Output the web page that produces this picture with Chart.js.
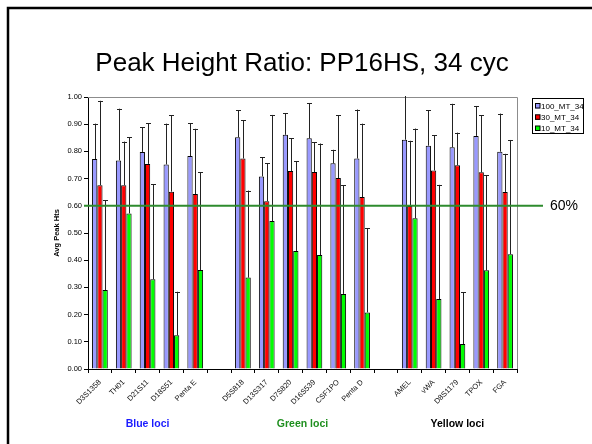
<!DOCTYPE html>
<html>
<head>
<meta charset="utf-8">
<script src="https://cdn.jsdelivr.net/npm/chart.js@4.4.1/dist/chart.umd.min.js"></script>
<style>
  html, body { margin:0; padding:0; background:#fff; }
  #wrap { width:592px; height:444px; position:relative; }
</style>
</head>
<body>
<div id="wrap"><canvas id="c" width="592" height="444"></canvas></div>
<script>
const categories = ['D3S1358','TH01','D21S11','D18S51','Penta E','',
  'D5S818','D13S317','D7S820','D16S539','CSF1PO','Penta D','',
  'AMEL','vWA','D8S1179','TPOX','FGA'];
const mt100 = [0.772,0.767,0.798,0.752,0.783,null,0.852,0.708,0.861,0.848,0.756,0.774,null,0.843,0.821,0.815,0.857,0.799];
const mt30  = [0.676,0.676,0.754,0.652,0.643,null,0.774,0.617,0.728,0.724,0.702,0.632,null,0.599,0.730,0.749,0.723,0.651];
const mt10  = [0.290,0.572,0.330,0.124,0.364,null,0.336,0.544,0.434,0.419,0.276,0.208,null,0.554,0.257,0.092,0.363,0.422];
const sd100 = [0.13,0.19,0.09,0.15,0.12,null,0.10,0.07,0.08,0.13,0.05,0.18,null,0.20,0.13,0.16,0.11,0.14];
const sd30  = [0.31,0.16,0.15,0.28,0.24,null,0.14,0.14,0.12,0.11,0.23,0.27,null,0.24,0.13,0.12,0.21,0.14];
const sd10  = [0.33,0.28,0.35,0.16,0.36,null,0.32,0.39,0.33,0.41,0.40,0.31,null,0.33,0.42,0.19,0.35,0.42];
const seriesNames = ['100_MT_34','30_MT_34','10_MT_34'];
const yTicks = [0,0.1,0.2,0.3,0.4,0.5,0.6,0.7,0.8,0.9,1.0];
const threshold = 0.60;
const thresholdLabel = '60%';
const titleText = 'Peak Height Ratio: PP16HS, 34 cyc';
const groupLabels = ['Blue loci','Green loci','Yellow loci'];
const groupRanges = [[0,4],[6,11],[13,17]];

const FONT = "'Liberation Sans', Arial, sans-serif";
const colors = ['#9999ff','#ff0000','#00ff00'];
const groupColors = ['#1a1aff','#1f8f1f','#000000'];
const sds = [sd100, sd30, sd10];

const extras = {
  id:'extras',
  afterDatasetsDraw(chart){
    const ctx = chart.ctx, ca = chart.chartArea, y = chart.scales.y;
    ctx.save();
    // plot border top & right
    ctx.strokeStyle = '#8c8c8c'; ctx.lineWidth = 1;
    ctx.beginPath();
    ctx.moveTo(ca.left, ca.top + 0.5); ctx.lineTo(ca.right + 0.5, ca.top + 0.5);
    ctx.lineTo(ca.right + 0.5, ca.bottom);
    ctx.stroke();
    // error bars
    ctx.strokeStyle = '#222'; ctx.lineWidth = 1;
    chart.data.datasets.forEach((ds, di) => {
      const meta = chart.getDatasetMeta(di);
      meta.data.forEach((bar, i) => {
        const v = ds.data[i];
        if (v == null) return;
        const top = y.getPixelForValue(v + sds[di][i]);
        const yt = Math.max(top, ca.top - 1);
        const x = Math.round(bar.x) + 0.5;
        ctx.beginPath();
        ctx.moveTo(x, bar.y); ctx.lineTo(x, yt);
        ctx.stroke();
        if (top >= ca.top - 1) {
          ctx.beginPath();
          ctx.moveTo(x - 2.5, Math.round(top) + 0.5); ctx.lineTo(x + 2.5, Math.round(top) + 0.5);
          ctx.stroke();
        }
      });
    });
    // threshold line
    const ty = y.getPixelForValue(threshold);
    ctx.strokeStyle = '#2e8b2e'; ctx.lineWidth = 2;
    ctx.beginPath(); ctx.moveTo(ca.left - 4, ty); ctx.lineTo(543, ty); ctx.stroke();
    ctx.fillStyle = '#000'; ctx.font = '14px ' + FONT;
    ctx.textAlign = 'left'; ctx.textBaseline = 'middle';
    ctx.fillText(thresholdLabel, 550, ty);
    ctx.restore();
  },
  afterDraw(chart){
    const ctx = chart.ctx, x = chart.scales.x;
    ctx.save();
    // frame
    ctx.strokeStyle = '#000'; ctx.lineWidth = 2.5;
    ctx.beginPath(); ctx.moveTo(8, 444); ctx.lineTo(8, 8); ctx.lineTo(592, 8); ctx.stroke();
    // title
    ctx.fillStyle = '#000'; ctx.font = '26px ' + FONT;
    ctx.textAlign = 'center'; ctx.textBaseline = 'alphabetic';
    ctx.fillText(titleText, 302, 71);
    // legend
    ctx.strokeStyle = '#000'; ctx.lineWidth = 1;
    ctx.strokeRect(532.5, 98.5, 51, 35);
    ctx.font = '8px ' + FONT; ctx.textAlign = 'left'; ctx.textBaseline = 'middle';
    const rows = [106, 117.3, 128.5];
    seriesNames.forEach((n, i) => {
      ctx.fillStyle = colors[i];
      ctx.fillRect(535, rows[i] - 2.5, 5, 5);
      ctx.strokeRect(535.5, rows[i] - 2.5, 4.5, 4.5);
      ctx.fillStyle = '#000';
      ctx.fillText(n, 541, rows[i] + 0.3);
    });
    // group labels
    ctx.font = 'bold 10.5px ' + FONT; ctx.textAlign = 'center';
    groupLabels.forEach((g, i) => {
      const [a, b] = groupRanges[i];
      const cx = (x.getPixelForValue(a) + x.getPixelForValue(b)) / 2;
      ctx.fillStyle = groupColors[i];
      ctx.fillText(g, cx, 424);
    });
    ctx.restore();
  }
};

new Chart(document.getElementById('c'), {
  type: 'bar',
  data: {
    labels: categories,
    datasets: [mt100, mt30, mt10].map((d, i) => ({
      label: seriesNames[i], data: d,
      backgroundColor: colors[i], borderColor: '#000', borderWidth: 1,
      categoryPercentage: 0.66, barPercentage: 1.0
    }))
  },
  options: {
    responsive: false, animation: false,
    devicePixelRatio: 1,
    layout: { padding: { left: 48, top: 97, right: 75, bottom: 0 } },
    plugins: { legend: { display: false }, title: { display: false }, tooltip: { enabled: false } },
    scales: {
      x: {
        grid: { display: true, drawOnChartArea: false, drawTicks: true, tickLength: 4, color: '#000', offset: true },
        border: { color: '#000', width: 1 },
        ticks: { autoSkip: false, maxRotation: 45, minRotation: 45, color: '#111', padding: 5,
                 font: { family: FONT, size: 7.5 } },
        afterFit(s) { s.height = 75; }
      },
      y: {
        min: 0, max: 1,
        afterBuildTicks(s) { s.ticks = yTicks.map(v => ({ value: v })); },
        grid: { display: true, drawOnChartArea: false, drawTicks: true, tickLength: 4, color: '#000' },
        border: { color: '#000', width: 1 },
        ticks: { color: '#000', padding: 2, font: { family: FONT, size: 7.5 },
                 callback: v => Number(v).toFixed(2) },
        title: { display: true, text: 'Avg Peak Hts', color: '#000',
                 font: { family: FONT, size: 7.5, weight: 'bold' }, padding: { top: 4, bottom: 4 } },
        afterFit(s) { s.width = 40; }
      }
    }
  },
  plugins: [extras]
});
</script>
</body>
</html>
